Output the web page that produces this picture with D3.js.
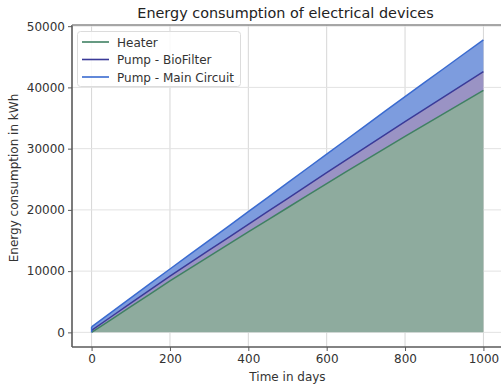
<!DOCTYPE html>
<html><head><meta charset="utf-8">
<script src="https://cdnjs.cloudflare.com/ajax/libs/d3/7.8.5/d3.min.js"></script>
<style>body{margin:0;background:#fff;}svg{display:block;font-family:"DejaVu Sans",sans-serif;}</style>
</head><body><svg id="c" width="501" height="385"></svg>
<script>
const days = [0,50,100,150,200,250,300,350,400,450,500,550,600,650,700,750,800,850,900,950,1000];
const heater = [0,2100,4200,6300,8400,10400,12400,14400,16400,18380,20350,22330,24300,26230,28150,30080,32000,33880,35750,37630,39500];
const bioFilter = [330,450,570,685,800,905,1010,1115,1220,1360,1500,1640,1780,1935,2090,2245,2400,2570,2735,2905,3070];
const mainCircuit = [570,715,860,1005,1150,1380,1615,1845,2080,2315,2550,2785,3020,3290,3560,3830,4100,4370,4640,4920,5190];
const seriesNames = ["Heater","Pump - BioFilter","Pump - Main Circuit"];
const xTicks = [0,200,400,600,800,1000];
const yTicks = [0,10000,20000,30000,40000,50000];

const lineColors = ["#3f8062","#3a3a98","#3a6bd0"];
const fillColors = ["#8eab9e","#9a93c4","#7d9cde"];

const svg = d3.select("#c");
const L = 72, R = 503, T = 25, B = 347;
const x = d3.scaleLinear().domain([-50,1050]).range([L,R]);
const y = d3.scaleLinear().domain([-2390,50190]).range([B,T]);

// grid
svg.append("g").selectAll("line").data(xTicks).join("line")
  .attr("x1",d=>x(d)).attr("x2",d=>x(d)).attr("y1",T).attr("y2",B)
  .attr("stroke","#d6d6d6").attr("stroke-width",1);
svg.append("g").selectAll("line").data(yTicks).join("line")
  .attr("x1",L).attr("x2",R).attr("y1",d=>y(d)).attr("y2",d=>y(d))
  .attr("stroke","#e2e2e2").attr("stroke-width",1);

const rows = days.map((d,i)=>({day:d, s0:heater[i], s1:bioFilter[i], s2:mainCircuit[i]}));
const stack = d3.stack().keys(["s0","s1","s2"])(rows);

const area = d3.area().x(d=>x(d.data.day)).y0(d=>y(d[0])).y1(d=>y(d[1]));
const line = d3.line().x(d=>x(d.data.day)).y(d=>y(d[1]));

svg.append("g").selectAll("path").data(stack).join("path")
  .attr("d",area).attr("fill",(d,i)=>fillColors[i]);
svg.append("g").selectAll("path").data(stack).join("path")
  .attr("d",line).attr("fill","none").attr("stroke",(d,i)=>lineColors[i]).attr("stroke-width",1.5);
// initial vertical edge at day 0
svg.append("line").attr("x1",x(0)).attr("x2",x(0)).attr("y1",y(0)).attr("y2",y(stack[2][0][1]))
  .attr("stroke",lineColors[2]).attr("stroke-width",1.5);

// spines
svg.append("line").attr("x1",L).attr("x2",L).attr("y1",T).attr("y2",B).attr("stroke","#5a5a5a").attr("stroke-width",1.6);
svg.append("line").attr("x1",L).attr("x2",R).attr("y1",B).attr("y2",B).attr("stroke","#5a5a5a").attr("stroke-width",1.6);
svg.append("line").attr("x1",L).attr("x2",R).attr("y1",T).attr("y2",T).attr("stroke","#8a8a8a").attr("stroke-width",1.4);

// axes
const xa = svg.append("g").attr("transform",`translate(0,${B})`)
  .call(d3.axisBottom(x).tickValues(xTicks).tickSize(4).tickPadding(3).tickFormat(d3.format("d")));
const ya = svg.append("g").attr("transform",`translate(${L},0)`)
  .call(d3.axisLeft(y).tickValues(yTicks).tickSize(4).tickPadding(3).tickFormat(d3.format("d")));
[xa,ya].forEach(a=>{
  a.select(".domain").remove();
  a.selectAll(".tick line").attr("stroke","#5a5a5a");
  a.selectAll("text").attr("fill","#333").style("font-size","12px").style("font-family","DejaVu Sans");
});

svg.append("text").attr("x",(L+R)/2-2).attr("y",18).attr("text-anchor","middle")
  .attr("fill","#222").style("font-size","14.4px").text("Energy consumption of electrical devices");
svg.append("text").attr("x",(L+R)/2).attr("y",381).attr("text-anchor","middle")
  .attr("fill","#333").style("font-size","12px").text("Time in days");
svg.append("text").attr("transform","translate(18,178) rotate(-90)").attr("text-anchor","middle")
  .attr("fill","#333").style("font-size","12px").text("Energy consumption in kWh");

// legend
const lg = svg.append("g");
lg.append("rect").attr("x",77.5).attr("y",31.5).attr("width",163).attr("height",55).attr("rx",3)
  .attr("fill","#fff").attr("fill-opacity",0.85).attr("stroke","#dcdcdc");
seriesNames.forEach((n,i)=>{
  const yy = 42 + i*17.5;
  lg.append("line").attr("x1",82).attr("x2",109).attr("y1",yy).attr("y2",yy)
    .attr("stroke",lineColors[i]).attr("stroke-width",1.6);
  lg.append("text").attr("x",117).attr("y",yy+4.5).attr("fill","#333").style("font-size","12px").text(n);
});
</script></body></html>
